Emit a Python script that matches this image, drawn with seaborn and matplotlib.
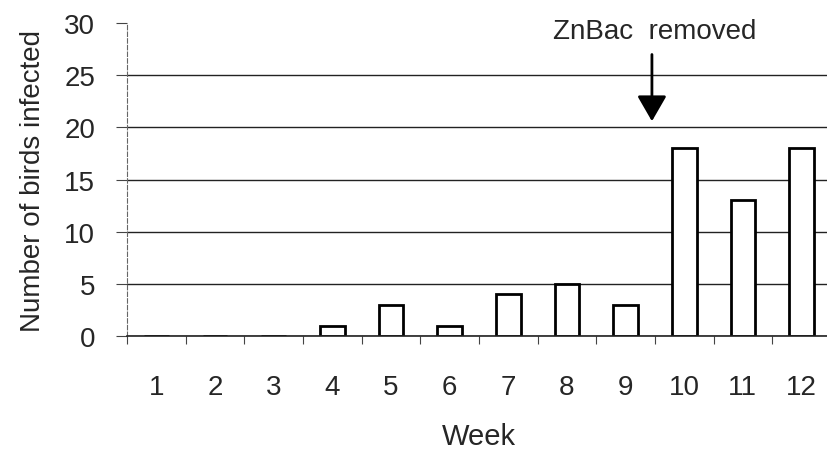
import numpy as np
import pandas as pd
import matplotlib
matplotlib.use("Agg")
import matplotlib.pyplot as plt
import seaborn as sns

# Weekly count of infected birds
weeks = ["1", "2", "3", "4", "5", "6", "7", "8", "9", "10", "11", "12"]
infected = [0, 0, 0, 1, 3, 1, 4, 5, 3, 18, 13, 18]
y_ticks = [0, 5, 10, 15, 20, 25, 30]

annotation_text = "ZnBac  removed"
arrow_x = 8.45  # between week 9 and week 10

sns.set_theme(style="white")
plt.rcParams["font.family"] = ["Liberation Sans", "DejaVu Sans"]

df = pd.DataFrame({"Week": weeks, "Infected": infected})

fig = plt.figure(figsize=(8.27, 4.52), dpi=100)
ax = fig.add_axes([0.1536, 0.2544, 0.851, 0.692])

sns.barplot(data=df, x="Week", y="Infected", order=weeks, ax=ax,
            color="white", edgecolor="black", linewidth=2.0, width=0.42,
            saturation=1)

ax.set_ylim(0, 30)
ax.set_xlim(-0.5, 11.5)
ax.set_yticks(y_ticks)
ax.set_yticklabels([str(t) for t in y_ticks], fontsize=20)
ax.set_xticks(range(len(weeks)))
ax.set_xticklabels(weeks, fontsize=20)
ax.set_xticks(np.arange(-0.5, 12, 1), minor=True)

# horizontal gridlines behind bars, none at the top edge
ax.set_axisbelow(True)
ax.yaxis.grid(True, color="#222222", linewidth=1.0)
ax.get_ygridlines()[-1].set_visible(False)

ax.tick_params(axis="y", which="major", direction="out", length=8, width=0.8,
               color="#444444", pad=15, left=True)
ax.tick_params(axis="x", which="major", length=0, pad=27)
ax.tick_params(axis="x", which="minor", direction="out", length=6, width=0.8,
               color="#444444", bottom=True)

for side in ("top", "right"):
    ax.spines[side].set_visible(False)
ax.spines["left"].set_linestyle((0, (4, 2)))
ax.spines["left"].set_color("#666666")
ax.spines["left"].set_linewidth(0.8)
ax.spines["bottom"].set_color("#222222")
ax.spines["bottom"].set_linewidth(1.2)

ax.set_xlabel("Week", fontsize=21, labelpad=16)
ax.set_ylabel("Number of birds infected", fontsize=20, labelpad=13)

ax.annotate("", xy=(arrow_x, 20.6), xytext=(arrow_x, 27.0),
            arrowprops=dict(arrowstyle="-|>,head_length=1.3,head_width=0.75",
                            color="black", lw=2.0, shrinkA=0, shrinkB=0))
ax.text(arrow_x + 0.05, 29.3, annotation_text, ha="center", va="center",
        fontsize=20, clip_on=False)

fig.savefig("out.png", dpi=100)
